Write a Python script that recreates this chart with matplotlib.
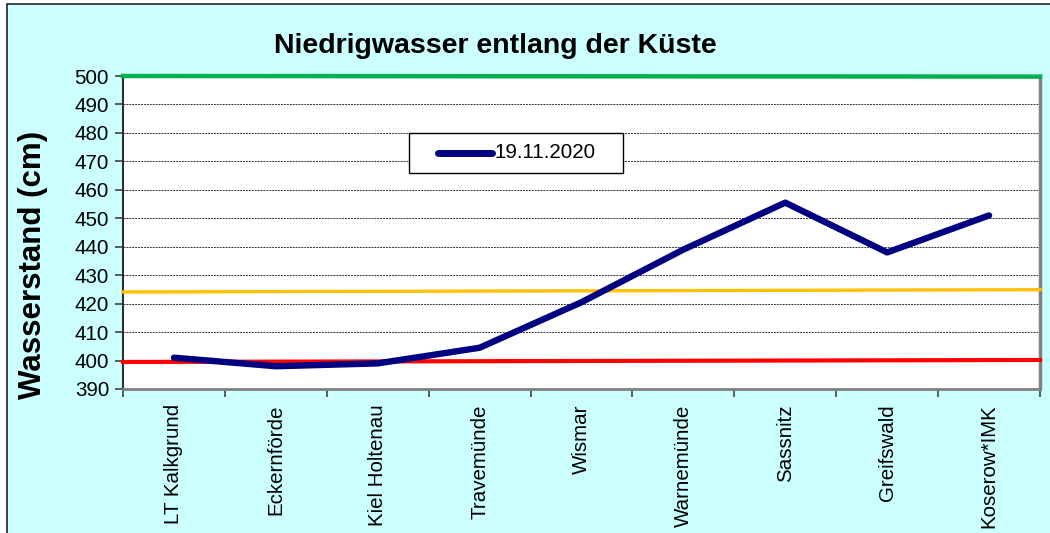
import matplotlib
matplotlib.use("Agg")
import matplotlib.pyplot as plt
from matplotlib.patches import Rectangle
from matplotlib.lines import Line2D

stations = ["LT Kalkgrund", "Eckernförde", "Kiel Holtenau", "Travemünde", "Wismar",
            "Warnemünde", "Sassnitz", "Greifswald", "Koserow*IMK"]
water_level = [401, 398, 399, 404.5, 420.5, 439, 455.5, 438, 451]
series_label = "19.11.2020"
green_level = [500, 499.8]
yellow_level = [424.1, 424.9]
red_level = [399.5, 400.2]
yticks = list(range(390, 501, 10))
title = "Niedrigwasser entlang der Küste"
ylabel = "Wasserstand (cm)"

plt.rcParams['font.family'] = ['Liberation Sans', 'DejaVu Sans']

W, H = 1050, 533
fig = plt.figure(figsize=(W / 100, H / 100), dpi=100, facecolor="white")

# chart area background with border (clipped at right/bottom)
bg = Rectangle((7 / W, -0.1), 1.2, 1 - 4 / H + 0.1, transform=fig.transFigure,
               facecolor="#CCFFFF", edgecolor="#222222", linewidth=1.2, zorder=-10)
fig.patches.append(bg)

ax = fig.add_axes([123 / W, 1 - 389 / H, (1040 - 123) / W, (389 - 76) / H])
ax.set_facecolor("white")

x = list(range(len(stations)))
xr = [-0.5, len(stations) - 0.5]

ax.set_xlim(xr)
ax.set_ylim(390, 500)

for yv in yticks[1:-1]:
    ax.axhline(yv, color="#333333", linewidth=0.7, linestyle=(0, (2, 1)), zorder=1)

ax.plot(xr, red_level, color="#FF0000", linewidth=3.0, zorder=3, clip_on=False)
ax.plot(xr, yellow_level, color="#FFC000", linewidth=2.4, zorder=3, clip_on=False)
ax.plot(xr, green_level, color="#00B050", linewidth=3.2, zorder=5, clip_on=False)

line, = ax.plot(x, water_level, color="#000080", linewidth=4.6, zorder=4,
                solid_capstyle="round", label=series_label)

ax.set_yticks(yticks)
ax.set_yticklabels([str(v) for v in yticks], fontsize=14.8)
ax.set_xticks([i - 0.5 for i in range(len(stations) + 1)])
ax.set_xticklabels([])
ax.set_xticks(x, minor=True)
ax.set_xticklabels(stations, minor=True, rotation=90, fontsize=14.8, va="top")
ax.tick_params(axis="x", which="minor", length=0, pad=11)
ax.tick_params(axis="x", which="major", length=6, width=1.2, color="#404040", direction="out")
ax.tick_params(axis="y", length=6, width=1.2, color="#404040", direction="out", pad=4)

ax.spines["top"].set_visible(False)
ax.spines["left"].set_color("#303030")
ax.spines["left"].set_linewidth(1.5)
ax.spines["bottom"].set_color("#808080")
ax.spines["bottom"].set_linewidth(2)
ax.spines["right"].set_color("#808080")
ax.spines["right"].set_linewidth(2.5)

fig.text(495 / W, 1 - 46 / H, title, fontsize=20.5, fontweight="bold",
         ha="center", va="center")
fig.text(33 / W, 1 - 265 / H, ylabel, fontsize=22.5, fontweight="bold",
         rotation=90, ha="center", va="center")

# legend box drawn manually to match the original's padding
lx0, lx1, ly0, ly1 = 409, 623, 133, 173
fig.patches.append(Rectangle((lx0 / W, 1 - ly1 / H), (lx1 - lx0) / W, (ly1 - ly0) / H,
                             transform=fig.transFigure, facecolor="white",
                             edgecolor="black", linewidth=1.0, zorder=20))
ly = 1 - 153 / H
fig.lines.append(Line2D([438 / W, 492 / W], [ly, ly], transform=fig.transFigure,
                        color=line.get_color(), linewidth=5, solid_capstyle="round",
                        zorder=21))
fig.text(495 / W, ly, line.get_label(), fontsize=14.8, ha="left", va="center",
         zorder=22)

fig.savefig("out.png", dpi=100, facecolor=fig.get_facecolor())
